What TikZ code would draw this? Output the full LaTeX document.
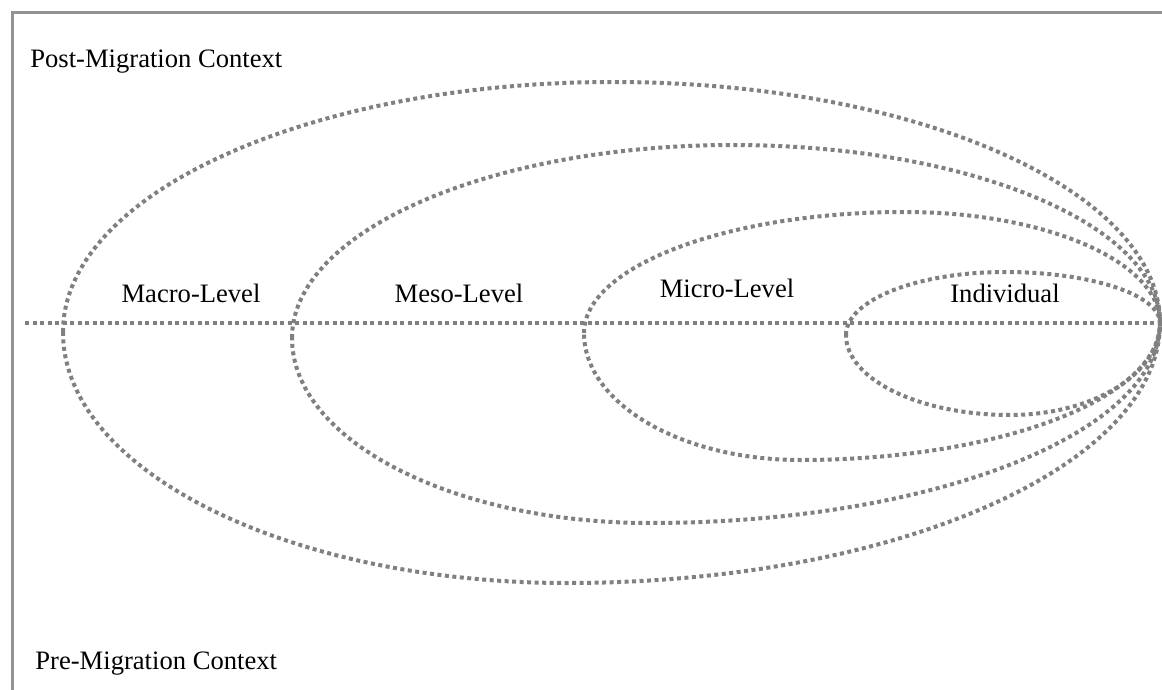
\documentclass[tikz,border=0pt]{standalone}
\usepackage{fontspec}
\setmainfont{Liberation Serif}
\usepackage{tikz}

\begin{document}
\begin{tikzpicture}[
  x=0.5pt,
  y=-0.5pt,
  txt/.style={font=\fontsize{13.3}{16}\selectfont,inner sep=0pt},
  ctx/.style={txt,anchor=base west},
  lvl/.style={txt,anchor=base},
  ring/.style={draw=gray,line width=2pt,dash pattern=on 2pt off 1.75pt},
  frame/.style={draw=gray!85,line width=1.5pt}
]
\useasboundingbox (0,0) rectangle (1162,690);

% frame
\coordinate (fr) at (1162,13);
\coordinate (ftl) at (12,13);
\coordinate (fb) at (12,690);
\draw[frame] (fr) -- (ftl) -- (fb);

% shared right end
\coordinate (R) at (1160,323);
\coordinate (axl) at (25,323);

% macro
\coordinate (L1) at (63,332);
\coordinate (T1) at (613,82);
\coordinate (B1) at (567,583);
\draw[ring] (L1) .. controls (63,193.9) and (309.2,82) .. (T1)
  .. controls (915.1,82) and (1160,189.9) .. (R)
  .. controls (1160,466.6) and (894.5,583) .. (B1)
  .. controls (288.6,583) and (63,470.6) .. (L1) -- cycle;

% meso
\coordinate (L2) at (292,338);
\coordinate (T2) at (733,145);
\coordinate (B2) at (650,523);
\draw[ring] (L2) .. controls (292,231.4) and (489.4,145) .. (T2)
  .. controls (968.8,145) and (1160,224.7) .. (R)
  .. controls (1160,433.5) and (931.7,523) .. (B2)
  .. controls (452.3,523) and (292,440.2) .. (L2) -- cycle;

% micro
\coordinate (L3) at (584,333);
\coordinate (T3) at (905,212);
\coordinate (B3) at (800,460);
\draw[ring] (L3) .. controls (584,266.2) and (727.7,212) .. (T3)
  .. controls (1045.8,212) and (1160,261.7) .. (R)
  .. controls (1160,398.7) and (998.8,460) .. (B3)
  .. controls (680.7,460) and (584,403.1) .. (L3) -- cycle;

% individual
\coordinate (L4) at (846,335);
\coordinate (T4) at (1005,272);
\coordinate (B4) at (1010,415);
\draw[ring] (L4) .. controls (846,300.2) and (917.2,272) .. (T4)
  .. controls (1090.6,272) and (1160,294.8) .. (R)
  .. controls (1160,373.8) and (1092.8,415) .. (B4)
  .. controls (919.4,415) and (846,379.2) .. (L4) -- cycle;

% axis
\draw[ring] (axl) -- (R);

% labels
\node[ctx] (post) at (30,68) {Post-Migration Context};
\node[ctx] (pre) at (35,669) {Pre-Migration Context};
\node[lvl] (macro) at (191,302) {Macro-Level};
\node[lvl] (meso) at (459,302) {Meso-Level};
\node[lvl] (micro) at (727,297) {Micro-Level};
\node[lvl] (indiv) at (1005,302) {Individual};
\end{tikzpicture}
\end{document}
